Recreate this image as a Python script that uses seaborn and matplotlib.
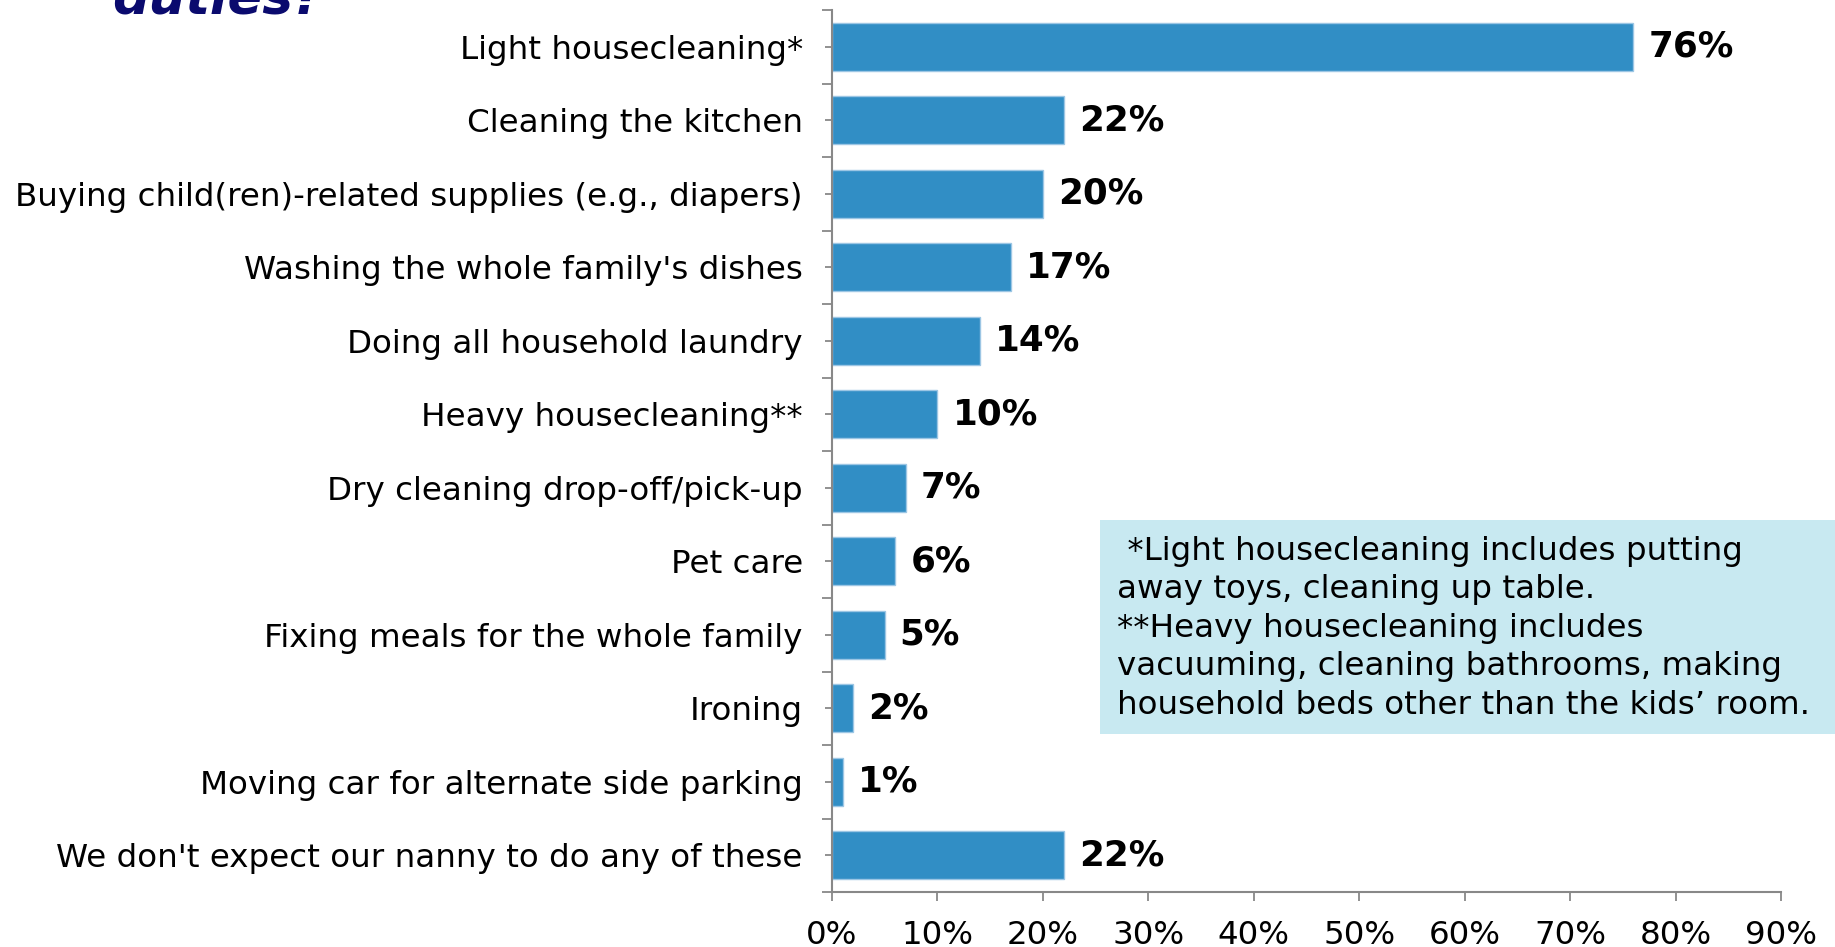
import matplotlib
matplotlib.use("Agg")
import matplotlib.pyplot as plt
from matplotlib.patches import Rectangle
import seaborn as sns
import pandas as pd

# Household duties expected of the nanny (% of respondents)
categories = [
    "Light housecleaning*",
    "Cleaning the kitchen",
    "Buying child(ren)-related supplies (e.g., diapers)",
    "Washing the whole family's dishes",
    "Doing all household laundry",
    "Heavy housecleaning**",
    "Dry cleaning drop-off/pick-up",
    "Pet care",
    "Fixing meals for the whole family",
    "Ironing",
    "Moving car for alternate side parking",
    "We don't expect our nanny to do any of these",
]
values = [76, 22, 20, 17, 14, 10, 7, 6, 5, 2, 1, 22]
x_ticks = [0, 10, 20, 30, 40, 50, 60, 70, 80, 90]
x_tick_labels = [f"{t}%" for t in x_ticks]

footnote = (" *Light housecleaning includes putting\n"
            "away toys, cleaning up table.\n"
            "**Heavy housecleaning includes\n"
            "vacuuming, cleaning bathrooms, making\n"
            "household beds other than the kids\u2019 room.")

sns.set_theme(style="white")
plt.rcParams["font.family"] = ["DejaVu Sans"]
plt.rcParams["text.color"] = "black"
plt.rcParams["xtick.color"] = "black"
plt.rcParams["ytick.color"] = "black"

BAR = "#318EC5"
AXIS = "#888888"
FS = 23.4

df = pd.DataFrame({"duty": categories, "pct": values})

fig = plt.figure(figsize=(18.35, 9.47), dpi=100)
ax = fig.add_axes([832 / 1835, 1 - 892 / 947, (1781 - 832) / 1835, (892 - 10) / 947])

sns.barplot(data=df, x="pct", y="duty", orient="h", color=BAR, saturation=1,
            width=0.65, edgecolor="#9cc6e4", linewidth=1.0, ax=ax)

ax.set_xlim(0, 90)
ax.set_ylim(len(categories) - 0.5, -0.5)
ax.set_xlabel("")
ax.set_ylabel("")

# x axis
ax.set_xticks(x_ticks)
ax.set_xticklabels(x_tick_labels, fontsize=FS)
ax.tick_params(axis="x", direction="out", length=6.5, width=1.3, color=AXIS,
               labelcolor="black", pad=14, bottom=True)

# y axis: labels at centres, boundary ticks as minor ticks
ax.set_yticks(range(len(categories)))
ax.set_yticklabels(categories, fontsize=FS)
ax.set_yticks([i - 0.5 for i in range(len(categories) + 1)], minor=True)
ax.tick_params(axis="y", which="major", direction="out", length=5, width=1.3,
               color=AXIS, labelcolor="black", pad=16, left=True)
ax.tick_params(axis="y", which="minor", direction="out", length=7.2, width=1.3,
               color=AXIS, left=True)

for side in ["top", "right"]:
    ax.spines[side].set_visible(False)
for side in ["left", "bottom"]:
    ax.spines[side].set_color(AXIS)
    ax.spines[side].set_linewidth(1.5)
ax.grid(False)

# value labels
for i, v in enumerate(values):
    ax.annotate(f"{v}%", xy=(v, i), xytext=(15, 0), textcoords="offset pixels",
                ha="left", va="center", fontsize=25.7, fontweight="bold",
                color="black")

# footnote box
fig.patches.append(Rectangle((1100 / 1835, 1 - 734 / 947), 735 / 1835, 214 / 947,
                             transform=fig.transFigure, facecolor="#C8E9F1",
                             edgecolor="none", zorder=0))
fig.text(1117 / 1835, 1 - 536 / 947, footnote, ha="left", va="top",
         fontsize=FS, linespacing=1.31, color="black")

# title fragment at the top edge
fig.text(112 / 1835, 1 - 13 / 947, "duties?", ha="left", va="baseline",
         fontsize=37, fontweight="bold", fontstyle="italic", color="#0A0A6E")

fig.savefig("out.png", dpi=100)
